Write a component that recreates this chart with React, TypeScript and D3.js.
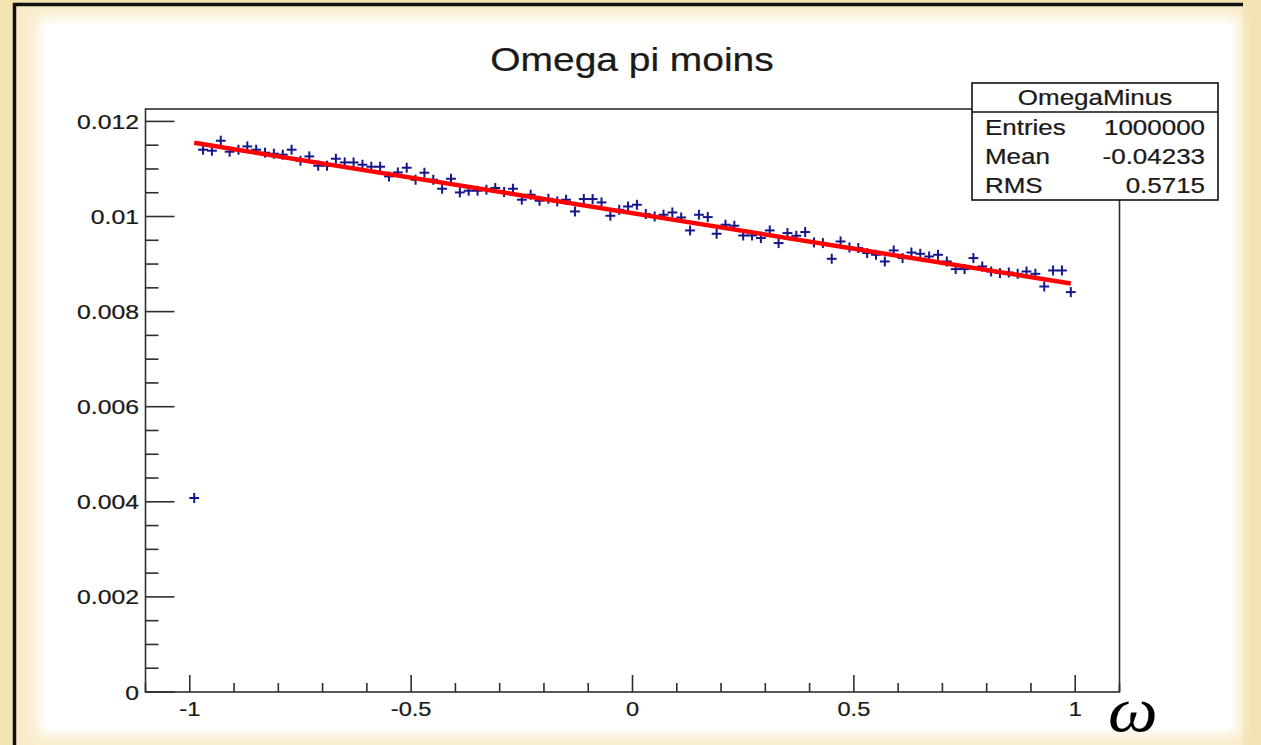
import React from "react";
import * as d3 from "d3";

const TITLE = "Omega pi moins";
const STATS_NAME = "OmegaMinus";
const STATS_LABELS = ["Entries", "Mean", "RMS"];
const STATS_VALUES = ["1000000", "-0.04233", "0.5715"];
const X_LABEL = "ω";

const X_LOW = -1;
const X_HIGH = 1;
const BIN_VALUES = [
  0.00408, 0.011405, 0.011384, 0.011594, 0.011363, 0.011405, 0.011474, 0.011405, 0.011342, 0.011321,
  0.0113, 0.011405, 0.011173, 0.011264, 0.011068, 0.011068, 0.011215, 0.011137, 0.011137, 0.011089,
  0.011047, 0.011047, 0.010843, 0.010927, 0.011026, 0.010773, 0.010921, 0.010773, 0.010584, 0.010794,
  0.010506, 0.010542, 0.010542, 0.010563, 0.010599, 0.010515, 0.010584, 0.010353, 0.010458, 0.010332,
  0.010373, 0.010317, 0.010353, 0.010106, 0.010367, 0.010367, 0.010296, 0.010016, 0.010142, 0.010211,
  0.010247, 0.010052, 0.010001, 0.010037, 0.010085, 0.00998, 0.009707, 0.010037, 0.009988, 0.009637,
  0.009827, 0.009806, 0.009601, 0.009601, 0.009547, 0.009707, 0.009441, 0.009652, 0.009595, 0.009673,
  0.009454, 0.009441, 0.009111, 0.009475, 0.009349, 0.009336, 0.009231, 0.009195, 0.009054, 0.009286,
  0.009126, 0.009243, 0.009216, 0.009159, 0.009195, 0.009054, 0.008894, 0.008894, 0.009126, 0.008949,
  0.008844, 0.00881, 0.008823, 0.008795, 0.008844, 0.008795, 0.008528, 0.008865, 0.008865, 0.00841,
];
const FIT_P0 = 0.01007;
const FIT_P1 = -0.001495;
const FIT_RANGE = [-0.99, 0.99];

const X_TICKS = [-1, -0.5, 0, 0.5, 1];
const X_TICK_LABELS = ["-1", "-0.5", "0", "0.5", "1"];
const X_MINOR_STEP = 0.1;
const Y_TICKS = [0, 0.002, 0.004, 0.006, 0.008, 0.01, 0.012];
const Y_TICK_LABELS = ["0", "0.002", "0.004", "0.006", "0.008", "0.01", "0.012"];
const Y_MINOR_STEP = 0.0005;

const W = 1261;
const H = 745;
const PL = 145.5, PR = 1119.5, PT = 109, PB = 692;
const FONT = "'Liberation Sans', Arial, Helvetica, sans-serif";
const SX = 1.18;
const AXIS = "#2e2e2e";

function T(props: any) {
  const { x, y, size, anchor = "start", children, sx = SX, fill = "#1a1a1a" } = props;
  return (
    <text
      transform={`translate(${x},${y}) scale(${sx},1)`}
      fontSize={size}
      fontFamily={FONT}
      textAnchor={anchor}
      fill={fill}
      stroke={fill}
      strokeWidth={0.25}
    >
      {children}
    </text>
  );
}

export default function App() {
  const x = d3.scaleLinear().domain([-1.1, 1.1]).range([PL, PR]);
  const y = d3.scaleLinear().domain([0, 0.012261]).range([PB, PT]);
  const n = BIN_VALUES.length;
  const bw = (X_HIGH - X_LOW) / n;

  const xMinor: number[] = [];
  for (let v = -1.1; v <= 1.1 + 1e-9; v += X_MINOR_STEP) {
    const r = Math.round(v * 10) / 10;
    if (!X_TICKS.some((t) => Math.abs(t - r) < 1e-9)) xMinor.push(r);
  }
  const yMinor: number[] = [];
  for (let v = 0; v <= 0.01226; v += Y_MINOR_STEP) {
    const r = Math.round(v * 10000) / 10000;
    if (!Y_TICKS.some((t) => Math.abs(t - r) < 1e-9)) yMinor.push(r);
  }

  const fitLine = d3
    .line<number>()
    .x((d) => x(d))
    .y((d) => y(FIT_P0 + FIT_P1 * d));

  return (
    <svg
      width={W}
      height={H}
      style={{ position: "absolute", left: 0, top: 0, display: "block" }}
    >
      <defs>
        <filter id="soft" x="-5%" y="-5%" width="110%" height="110%">
          <feGaussianBlur stdDeviation="7" />
        </filter>
      </defs>
      <rect x={0} y={0} width={W} height={H} fill="#f4e4b4" />
      <rect x={16} y={6} width={1227} height={H - 6} fill="#f9eccb" />
      <rect x={38} y={17} width={1200} height={718} fill="#ffffff" filter="url(#soft)" />
      <rect x={46} y={24} width={1186} height={705} fill="#ffffff" />
      <line x1={14.5} y1={3} x2={14.5} y2={H} stroke="#111" strokeWidth={3.5} />
      <line x1={13} y1={4.5} x2={1243} y2={4.5} stroke="#111" strokeWidth={3.5} />

      {/* title */}
      <T x={632} y={71} size={33} anchor="middle">{TITLE}</T>

      {/* frame */}
      <rect x={PL} y={PT} width={PR - PL} height={PB - PT} fill="none" stroke={AXIS} strokeWidth={1.6} />

      {/* x ticks */}
      {X_TICKS.map((t) => (
        <line key={"xm" + t} x1={x(t)} x2={x(t)} y1={PB} y2={PB - 17} stroke={AXIS} strokeWidth={1.6} />
      ))}
      {xMinor.map((t) => (
        <line key={"xn" + t} x1={x(t)} x2={x(t)} y1={PB} y2={PB - 9} stroke={AXIS} strokeWidth={1.6} />
      ))}
      {X_TICKS.map((t, i) => (
        <T key={"xl" + t} x={x(t)} y={716} size={20} anchor="middle">{X_TICK_LABELS[i]}</T>
      ))}

      {/* y ticks */}
      {Y_TICKS.map((t) => (
        <line key={"ym" + t} x1={PL} x2={PL + 29} y1={y(t)} y2={y(t)} stroke={AXIS} strokeWidth={1.6} />
      ))}
      {yMinor.map((t) => (
        <line key={"yn" + t} x1={PL} x2={PL + 13} y1={y(t)} y2={y(t)} stroke={AXIS} strokeWidth={1.6} />
      ))}
      {Y_TICKS.map((t, i) => (
        <T key={"yl" + t} x={139} y={y(t) + 7.5} size={21} anchor="end">{Y_TICK_LABELS[i]}</T>
      ))}

      {/* data crosses */}
      {BIN_VALUES.map((v, i) => {
        const lo = X_LOW + i * bw;
        const hi = lo + bw;
        const cx = x(lo + bw / 2);
        const cy = y(v);
        return (
          <g key={"p" + i} stroke="#16168a" strokeWidth={2}>
            <line x1={x(lo) - 0.5} x2={x(hi) + 0.5} y1={cy} y2={cy} />
            <line x1={cx} x2={cx} y1={cy - 5} y2={cy + 5} />
          </g>
        );
      })}

      {/* fit */}
      <path d={fitLine(FIT_RANGE) || ""} fill="none" stroke="#ff0000" strokeWidth={4.5} />

      {/* stats box */}
      <rect x={972} y={83} width={246} height={117} fill="#ffffff" stroke="#111" strokeWidth={1.6} />
      <line x1={972} x2={1218} y1={112} y2={112} stroke="#111" strokeWidth={1.6} />
      <T x={1095} y={105} size={22} anchor="middle">{STATS_NAME}</T>
      {STATS_LABELS.map((l, i) => (
        <g key={"s" + i}>
          <T x={985} y={135 + i * 29} size={22}>{l}</T>
          <T x={1205} y={135 + i * 29} size={22} anchor="end">{STATS_VALUES[i]}</T>
        </g>
      ))}

      {/* x label */}
      <text
        transform="translate(1108,731) scale(1.1,1)"
        fontSize={64}
        fontStyle="italic"
        fontFamily="'Liberation Serif', 'DejaVu Serif', serif"
        fill="#000"
      >
        {X_LABEL}
      </text>
    </svg>
  );
}
